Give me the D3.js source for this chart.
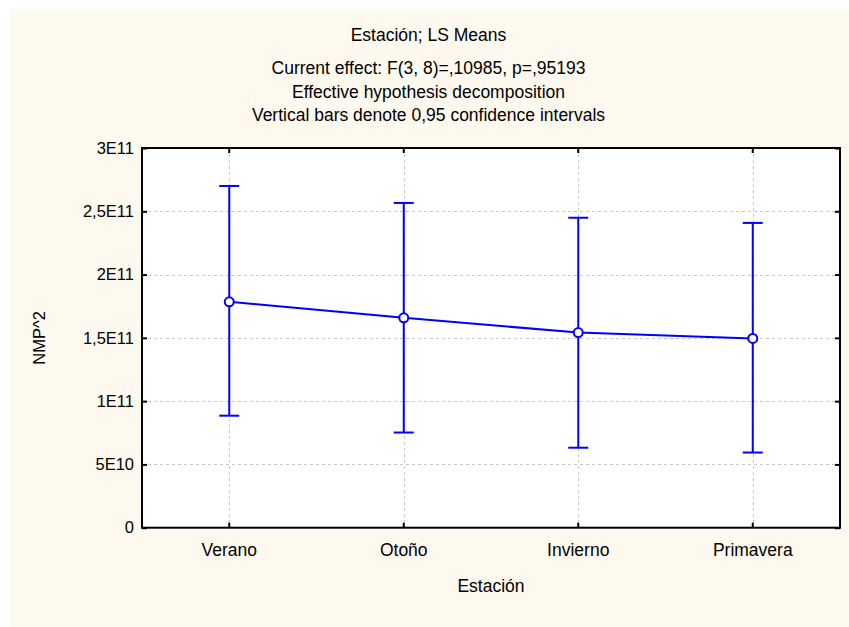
<!DOCTYPE html>
<html>
<head>
<meta charset="utf-8">
<script src="https://cdn.jsdelivr.net/npm/d3@7"></script>
<style>
  html, body { margin: 0; padding: 0; background: #ffffff; }
  svg { display: block; font-family: "Liberation Sans", Arial, sans-serif; }
</style>
</head>
<body>
<svg id="chart" width="849" height="627"></svg>
<script>
// LS means of NMP^2 by season, with 0.95 confidence limits
const seasons = ["Verano", "Otoño", "Invierno", "Primavera"];
const means   = [1.785e11, 1.658e11, 1.542e11, 1.495e11];
const lower   = [0.885e11, 0.752e11, 0.632e11, 0.594e11];
const upper   = [2.700e11, 2.566e11, 2.449e11, 2.408e11];
const yTicks  = [0, 5e10, 1e11, 1.5e11, 2e11, 2.5e11, 3e11];
const yTickLabels = ["0", "5E10", "1E11", "1,5E11", "2E11", "2,5E11", "3E11"];
const titleLines = [
  "Current effect: F(3, 8)=,10985, p=,95193",
  "Effective hypothesis decomposition",
  "Vertical bars denote 0,95 confidence intervals"
];

const svg = d3.select("#chart");
const W = 849, H = 627;
const plot = { left: 142, top: 148, right: 840, bottom: 527.7 };
const blue = "#0000ff";
const fsTitle = 17.5, fsTick = 16.5;

// outer panel
svg.append("rect").attr("x", 10).attr("y", 9).attr("width", W - 10).attr("height", H - 9)
  .attr("fill", "#fef9ef");

// plot background
svg.append("rect").attr("x", plot.left).attr("y", plot.top)
  .attr("width", plot.right - plot.left).attr("height", plot.bottom - plot.top)
  .attr("fill", "#ffffff");

const x = d3.scaleBand().domain(seasons).range([plot.left, plot.right]).padding(0);
const cx = d => x(d) + x.bandwidth() / 2;
const y = d3.scaleLinear().domain([0, 3e11]).range([plot.bottom, plot.top]);

// grid lines
const grid = svg.append("g").attr("stroke", "#c8c8c8").attr("stroke-width", 1)
  .attr("stroke-dasharray", "3,3").attr("shape-rendering", "crispEdges");
grid.selectAll("line.h").data(yTicks.slice(1, -1)).join("line")
  .attr("x1", plot.left).attr("x2", plot.right)
  .attr("y1", d => Math.round(y(d)) + 0.5).attr("y2", d => Math.round(y(d)) + 0.5);
grid.selectAll("line.v").data(seasons).join("line")
  .attr("y1", plot.top).attr("y2", plot.bottom)
  .attr("x1", d => Math.round(cx(d)) + 0.5).attr("x2", d => Math.round(cx(d)) + 0.5);

// axes (ticks point into the plot)
const yAxisL = svg.append("g").attr("transform", `translate(${plot.left},0)`)
  .call(d3.axisRight(y).tickValues(yTicks).tickSize(5).tickFormat(""));
const yAxisR = svg.append("g").attr("transform", `translate(${plot.right},0)`)
  .call(d3.axisLeft(y).tickValues(yTicks).tickSize(5).tickFormat(""));
const xAxisB = svg.append("g").attr("transform", `translate(0,${plot.bottom})`)
  .call(d3.axisTop(x).tickSize(5).tickFormat(""));
const xAxisT = svg.append("g").attr("transform", `translate(0,${plot.top})`)
  .call(d3.axisBottom(x).tickSize(5).tickFormat(""));
[yAxisL, yAxisR, xAxisB, xAxisT].forEach(a => {
  a.select(".domain").remove();
  a.selectAll(".tick line").attr("stroke", "#000").attr("stroke-width", 2);
});

// frame
svg.append("rect").attr("x", plot.left).attr("y", plot.top)
  .attr("width", plot.right - plot.left).attr("height", plot.bottom - plot.top)
  .attr("fill", "none").attr("stroke", "#000").attr("stroke-width", 2);

// y tick labels
svg.append("g").selectAll("text").data(yTicks).join("text")
  .attr("x", plot.left - 8).attr("y", d => y(d)).attr("dy", "0.35em")
  .attr("text-anchor", "end").attr("font-size", fsTick).attr("fill", "#000")
  .text((d, i) => yTickLabels[i]);

// x tick labels
svg.append("g").selectAll("text").data(seasons).join("text")
  .attr("x", d => cx(d)).attr("y", 556)
  .attr("text-anchor", "middle").attr("font-size", fsTitle).attr("fill", "#000")
  .text(d => d);

// axis titles
svg.append("text").attr("x", (plot.left + plot.right) / 2).attr("y", 592)
  .attr("text-anchor", "middle").attr("font-size", fsTitle).text("Estación");
svg.append("text").attr("transform", `translate(45,${(plot.top + plot.bottom) / 2}) rotate(-90)`)
  .attr("text-anchor", "middle").attr("font-size", fsTick).text("NMP^2");

// titles
svg.append("text").attr("x", W / 2 + 4).attr("y", 41).attr("text-anchor", "middle")
  .attr("font-size", fsTitle).text("Estación; LS Means");
svg.append("g").selectAll("text").data(titleLines).join("text")
  .attr("x", W / 2 + 4).attr("y", (d, i) => 74 + i * 23.5).attr("text-anchor", "middle")
  .attr("font-size", fsTitle).text(d => d);

// confidence interval bars
const data = seasons.map((s, i) => ({ s, m: means[i], lo: lower[i], hi: upper[i] }));
const bars = svg.append("g").attr("stroke", blue).attr("stroke-width", 2).attr("fill", "none");
bars.selectAll("line.stem").data(data).join("line")
  .attr("x1", d => cx(d.s)).attr("x2", d => cx(d.s))
  .attr("y1", d => y(d.lo)).attr("y2", d => y(d.hi));
bars.selectAll("line.capHi").data(data).join("line")
  .attr("x1", d => cx(d.s) - 10).attr("x2", d => cx(d.s) + 10)
  .attr("y1", d => y(d.hi)).attr("y2", d => y(d.hi));
bars.selectAll("line.capLo").data(data).join("line")
  .attr("x1", d => cx(d.s) - 10).attr("x2", d => cx(d.s) + 10)
  .attr("y1", d => y(d.lo)).attr("y2", d => y(d.lo));

// line through means
svg.append("path").datum(data)
  .attr("d", d3.line().x(d => cx(d.s)).y(d => y(d.m)))
  .attr("fill", "none").attr("stroke", blue).attr("stroke-width", 2);

// mean markers
svg.append("g").selectAll("circle").data(data).join("circle")
  .attr("cx", d => cx(d.s)).attr("cy", d => y(d.m)).attr("r", 4.5)
  .attr("fill", "#fff").attr("stroke", blue).attr("stroke-width", 2);
</script>
</body>
</html>
